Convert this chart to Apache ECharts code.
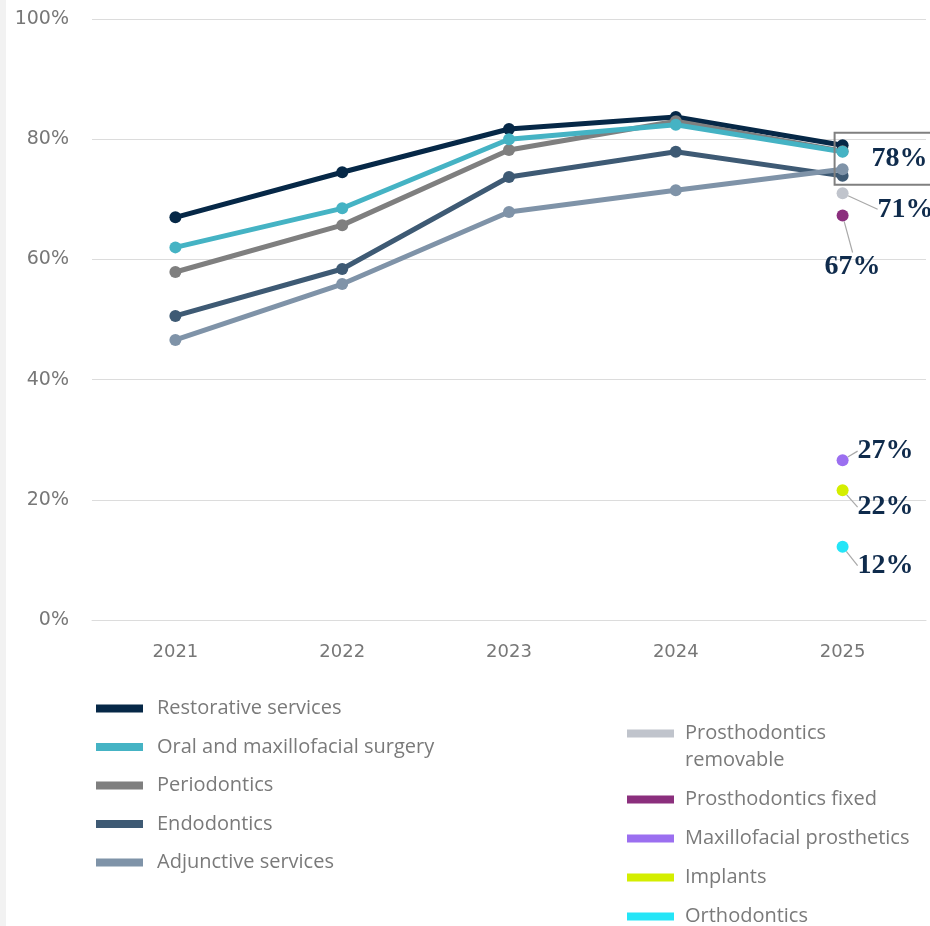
<!DOCTYPE html>
<html>
<head>
<meta charset="utf-8">
<script src="https://cdn.jsdelivr.net/npm/echarts@6/dist/echarts.min.js"></script>
<style>
  html, body { margin: 0; padding: 0; background: #fff; }
  #chart { width: 930px; height: 926px; }
</style>
</head>
<body>
<div id="chart"></div>
<script>
// years on the x axis
var years = ['2021', '2022', '2023', '2024', '2025'];
var yTicks = [0, 20, 40, 60, 80, 100];

// share of respondents (%) per service
var restorative = [67, 74.5, 81.7, 83.7, 79];
var oralSurgery = [62, 68.5, 80, 82.4, 77.9];
var periodontics = [57.9, 65.7, 78.2, 83, 78];
var endodontics = [50.6, 58.4, 73.7, 77.9, 73.9];
var adjunctive = [46.6, 55.9, 67.9, 71.5, 75];
// only asked in 2025
var prosthRemovable = [null, null, null, null, 71];
var prosthFixed = [null, null, null, null, 67.3];
var maxilloProsth = [null, null, null, null, 26.6];
var implants = [null, null, null, null, 21.6];
var orthodontics = [null, null, null, null, 12.2];

var labelFont = {
    fontFamily: 'Liberation Serif',
    fontWeight: 'bold',
    fontSize: 28,
    color: '#0f2b4c',
    lineHeight: 28
};

function pct(p) {
    return Math.round(p.value) + '%';
}

function lineSeries(name, data, color) {
    return {
        name: name,
        type: 'line',
        data: data,
        symbol: 'circle',
        symbolSize: 12,
        lineStyle: { color: color, width: 5 },
        itemStyle: { color: color }
    };
}

// single 2025 dot with a label pulled away by a leader line
function dotSeries(name, data, color, pos, dx, dy) {
    var s = lineSeries(name, data, color);
    s.label = Object.assign({ show: true, position: pos, distance: 5, formatter: pct }, labelFont);
    s.labelLine = { show: true, lineStyle: { color: '#a9a9a9', width: 1.2 } };
    s.labelLayout = { dx: dx, dy: dy };
    return s;
}

// the boxed 78% label sits on the oral surgery 2025 point
var oralData = oralSurgery.map(function (v, i) {
    if (i !== 4) return v;
    return {
        value: v,
        label: Object.assign({
            show: true,
            position: 'right',
            distance: 5,
            offset: [-19, 7],
            formatter: pct,
            borderColor: '#808080',
            borderWidth: 2,
            padding: [14, 4, 10, 37]
        }, labelFont)
    };
});

var legendText = {
    fontFamily: 'Open Sans',
    fontSize: 20,
    color: '#7a7a7a',
    lineHeight: 27
};

var myChart = echarts.init(document.getElementById('chart'));

var option = {
    animation: false,
    backgroundColor: '#ffffff',
    graphic: [{
        type: 'rect',
        left: 0,
        top: 0,
        shape: { width: 6, height: 926 },
        style: { fill: '#f2f2f2' }
    }],
    grid: { left: 92, right: 4, top: 19, bottom: 306 },
    legend: [
        {
            orient: 'vertical',
            left: 96,
            top: 695,
            padding: 0,
            itemGap: 11.5,
            icon: 'rect',
            itemWidth: 47,
            itemHeight: 8,
            textStyle: Object.assign({ padding: [0, 0, 0, 9] }, legendText),
            data: ['Restorative services', 'Oral and maxillofacial surgery', 'Periodontics',
                   'Endodontics', 'Adjunctive services']
        },
        {
            orient: 'vertical',
            left: 627,
            top: 693,
            padding: 0,
            itemGap: 12,
            icon: 'rect',
            itemWidth: 47,
            itemHeight: 8,
            textStyle: Object.assign({ padding: [0, 0, 0, 6] }, legendText),
            data: ['Prosthodontics removable', 'Prosthodontics fixed', 'Maxillofacial prosthetics',
                   'Implants', 'Orthodontics'],
            formatter: function (name) {
                // leading blank line keeps the first text line level with the icon
                return name === 'Prosthodontics removable' ? '\nProsthodontics\nremovable' : name;
            }
        }
    ],
    xAxis: {
        type: 'category',
        data: years,
        axisLine: { show: true, lineStyle: { color: '#dcdcdc', width: 1 } },
        axisTick: { show: false },
        axisLabel: { color: '#777', fontFamily: 'DejaVu Sans', fontSize: 18, margin: 23 }
    },
    yAxis: {
        type: 'value',
        min: yTicks[0],
        max: yTicks[yTicks.length - 1],
        interval: 20,
        axisLine: { show: false },
        axisTick: { show: false },
        splitLine: { lineStyle: { color: '#dcdcdc', width: 1 } },
        axisLabel: { color: '#777', fontFamily: 'DejaVu Sans', fontSize: 19, margin: 23, formatter: '{value}%' }
    },
    series: [
        lineSeries('Restorative services', restorative, '#062847'),
        lineSeries('Periodontics', periodontics, '#7f7f7f'),
        lineSeries('Oral and maxillofacial surgery', oralData, '#45b3c4'),
        lineSeries('Endodontics', endodontics, '#3e5a74'),
        lineSeries('Adjunctive services', adjunctive, '#7f93a8'),
        dotSeries('Prosthodontics removable', prosthRemovable, '#c0c4cc', 'right', 24, 16),
        dotSeries('Prosthodontics fixed', prosthFixed, '#8b2f7d', 'bottom', 10, 26),
        dotSeries('Maxillofacial prosthetics', maxilloProsth, '#9b6ff0', 'right', 4, -9),
        dotSeries('Implants', implants, '#d4ee00', 'right', 4, 17),
        dotSeries('Orthodontics', orthodontics, '#24e5f7', 'right', 4, 19)
    ]
};

myChart.setOption(option);
</script>
</body>
</html>
